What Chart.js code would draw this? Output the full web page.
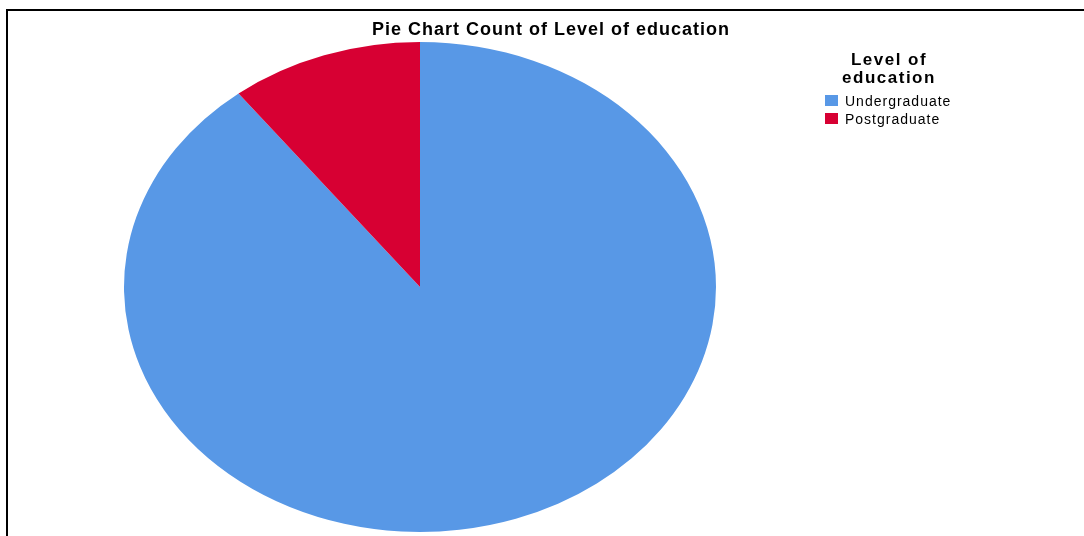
<!DOCTYPE html>
<html>
<head>
<meta charset="utf-8">
<script src="https://cdn.jsdelivr.net/npm/chart.js@4"></script>
<style>
  html, body { margin: 0; padding: 0; background: #fff; }
  #wrap { width: 1084px; height: 536px; position: relative; }
</style>
</head>
<body>
<div id="wrap"><canvas id="mycanvas" width="1084" height="536"></canvas></div>
<script>
// data
var chartTitle = "Pie Chart Count of Level of education";
var legendTitle = ["Level of", "education"];
var categories = ["Undergraduate", "Postgraduate"];
var counts = [179, 21];

var sliceColors = ["#5898E6", "#D70033"];

// pie in SPSS is drawn as an ellipse, so stretch it sideways
var stretchX = 296 / 245;

var ellipsePlugin = {
    id: 'ellipse',
    beforeDatasetsDraw: function (chart) {
        var ctx = chart.ctx;
        var a = chart.chartArea;
        var cx = (a.left + a.right) / 2;
        var cy = (a.top + a.bottom) / 2;
        ctx.save();
        ctx.translate(cx, cy);
        ctx.scale(stretchX, 1);
        ctx.translate(-cx, -cy);
    },
    afterDatasetsDraw: function (chart) {
        chart.ctx.restore();
    }
};

// frame, title and legend like the SPSS output
var decorPlugin = {
    id: 'decor',
    afterDraw: function (chart) {
        var ctx = chart.ctx;
        ctx.save();
        // frame (left + top edge)
        ctx.fillStyle = '#000';
        ctx.fillRect(6, 9, 2, 536 - 9);
        ctx.fillRect(6, 9, 1084 - 6, 2);

        ctx.fillStyle = '#000';
        ctx.textBaseline = 'alphabetic';
        ctx.textAlign = 'center';
        ctx.font = 'bold 18px "Liberation Sans", Arial, sans-serif';
        ctx.letterSpacing = '1px';
        ctx.fillText(chartTitle, 551, 35);

        ctx.font = 'bold 17px "Liberation Sans", Arial, sans-serif';
        ctx.letterSpacing = '1.5px';
        ctx.fillText(legendTitle[0], 889, 65);
        ctx.fillText(legendTitle[1], 889, 83);

        ctx.textAlign = 'left';
        ctx.font = '14px "Liberation Sans", Arial, sans-serif';
        ctx.letterSpacing = '1px';
        for (var i = 0; i < categories.length; i++) {
            var y = 95 + i * 18;
            ctx.fillStyle = sliceColors[i];
            ctx.fillRect(825, y, 13, 11);
            ctx.fillStyle = '#000';
            ctx.fillText(categories[i], 845, y + 11);
        }
        ctx.restore();
    }
};

var ctx = document.getElementById("mycanvas");

var pieChart = new Chart(ctx, {
    type: 'pie',
    data: {
        labels: categories,
        datasets: [{
            data: counts,
            backgroundColor: sliceColors,
            borderWidth: 0,
            hoverOffset: 0
        }]
    },
    options: {
        responsive: false,
        animation: false,
        layout: {
            padding: { top: 42, bottom: 4, left: 175, right: 419 }
        },
        plugins: {
            legend: { display: false },
            title: { display: false },
            tooltip: { enabled: false }
        }
    },
    plugins: [ellipsePlugin, decorPlugin]
});
</script>
</body>
</html>
